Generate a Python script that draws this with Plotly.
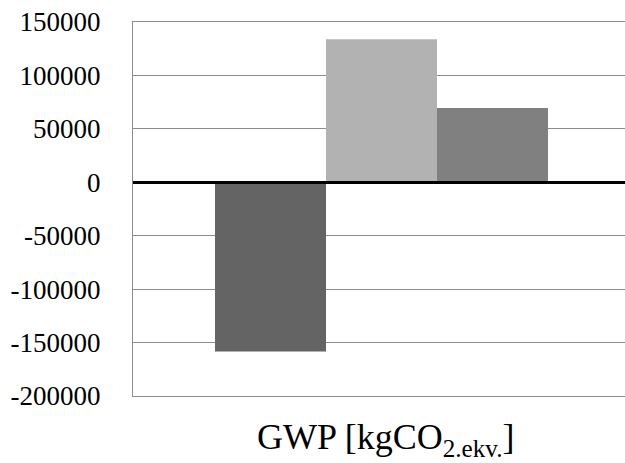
import plotly.graph_objects as go

categories = ["GWP"]
series_names = ["Series 1", "Series 2", "Series 3"]
series_values = [[-158300], [133900], [69500]]
series_colors = ["#646464", "#b2b2b2", "#808080"]
y_ticks = [-200000, -150000, -100000, -50000, 0, 50000, 100000, 150000]

SERIF = "Liberation Serif"

fig = go.Figure()
for name, vals, col in zip(series_names, series_values, series_colors):
    fig.add_trace(go.Bar(x=categories, y=vals, name=name, marker=dict(color=col, line=dict(width=0))))

fig.update_layout(
    width=625, height=463,
    margin=dict(l=133, r=0, t=22, b=67),
    paper_bgcolor="white", plot_bgcolor="white",
    barmode="group", bargap=0.6, bargroupgap=0,
    showlegend=False,
    font=dict(family=SERIF, color="black"),
)
fig.update_xaxes(
    range=[-0.2985, 0.2925], showticklabels=False, showgrid=False,
    showline=True, mirror=True, linecolor="#8c8c8c", linewidth=1.3, zeroline=False,
)
fig.update_yaxes(
    range=[-200000, 150000], tickvals=y_ticks, ticktext=[str(v) for v in y_ticks],
    showgrid=True, gridcolor="#8c8c8c", gridwidth=1.3,
    showline=True, linecolor="#8c8c8c", linewidth=1.3,
    zeroline=True, zerolinecolor="black", zerolinewidth=3,
    tickfont=dict(size=27, family=SERIF, color="black"),
    ticks="", ticklabelstandoff=26,
)
try:
    fig.update_yaxes(zerolinelayer="above traces")
except Exception:
    pass

fig.add_annotation(
    text="GWP [kgCO<sub>2.ekv.</sub>]", xref="paper", yref="paper",
    x=0.514, y=-0.05, xanchor="center", yanchor="top", showarrow=False,
    font=dict(size=36, family=SERIF, color="black"),
)

fig.write_html("out.html")
